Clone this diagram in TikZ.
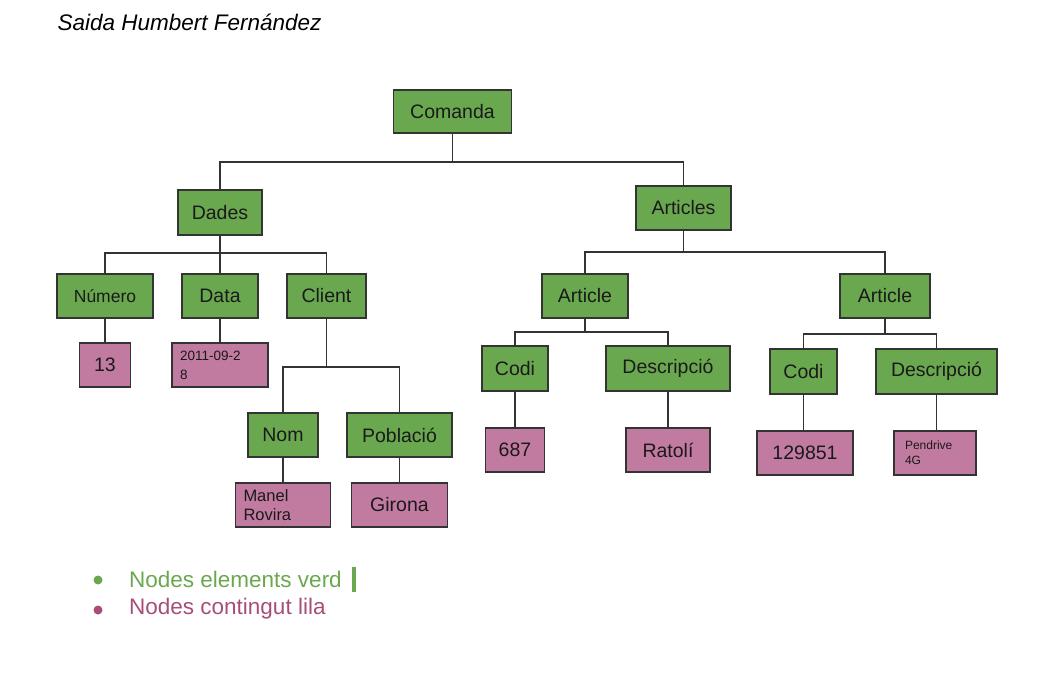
\documentclass[tikz,border=0pt]{standalone}
\usepackage{fontspec}
\setmainfont{Liberation Sans}
\definecolor{gfill}{HTML}{6AA84F}
\definecolor{pfill}{HTML}{C27BA0}
\definecolor{edge}{HTML}{333333}
\definecolor{gtext}{HTML}{6AA84F}
\definecolor{ptext}{HTML}{A64D79}
\definecolor{dtext}{HTML}{1A1A1A}
\begin{document}
\begin{tikzpicture}[x=1pt,y=-1pt,
  gbox/.style={draw=edge,line width=1.3pt,fill=gfill,text=dtext,inner sep=0pt,font=\fontsize{19.5}{22}\selectfont},
  pbox/.style={draw=edge,line width=1.3pt,fill=pfill,text=dtext,inner sep=0pt,font=\fontsize{19.5}{22}\selectfont},
  lbox/.style={pbox,inner xsep=8pt,align=left},
  conn/.style={draw=edge,line width=1.1pt}]
\useasboundingbox (0,0) rectangle (1054,672);

\node[anchor=west,font=\fontsize{22.5}{26}\selectfont\itshape] (title) at (54,22) {Saida Humbert Fernández};

% green element nodes
\node[gbox,minimum width=118pt,minimum height=43pt] (comanda) at (452.5,111.5) {Comanda};
\node[gbox,minimum width=84pt,minimum height=45pt] (dades) at (220,212.5) {Dades};
\node[gbox,minimum width=95pt,minimum height=44pt] (articles) at (683.5,208) {Articles};
\node[gbox,minimum width=96pt,minimum height=44pt,font=\fontsize{17.5}{20}\selectfont] (numero) at (105,296) {Número};
\node[gbox,minimum width=76pt,minimum height=44pt] (data) at (220,296) {Data};
\node[gbox,minimum width=79pt,minimum height=44pt] (client) at (326.5,296) {Client};
\node[gbox,minimum width=70pt,minimum height=44pt] (nom) at (283,435) {Nom};
\node[gbox,minimum width=105pt,minimum height=44pt] (poblacio) at (399.5,435) {Població};
\node[gbox,minimum width=86pt,minimum height=44pt] (article1) at (585,296) {Article};
\node[gbox,minimum width=90pt,minimum height=44pt] (article2) at (885,296) {Article};
\node[gbox,minimum width=66pt,minimum height=45pt] (codi1) at (515,368.5) {Codi};
\node[gbox,minimum width=124pt,minimum height=45pt] (desc1) at (668,368.5) {Descripció};
\node[gbox,minimum width=67pt,minimum height=45pt] (codi2) at (803.5,371.5) {Codi};
\node[gbox,minimum width=121pt,minimum height=45pt] (desc2) at (936.5,371.5) {Descripció};

% purple content nodes
\node[pbox,minimum width=51pt,minimum height=44pt] (v13) at (105,365) {13};
\node[lbox,text width=80pt,minimum height=44pt,font=\fontsize{13.5}{19}\selectfont] (vdata) at (220,365) {2011-09-2\\8};
\node[lbox,text width=79pt,minimum height=44pt,font=\fontsize{16.5}{19.5}\selectfont] (vnom) at (283,505) {Manel\\Rovira};
\node[pbox,minimum width=96pt,minimum height=44pt] (vpob) at (399.5,505) {Girona};
\node[pbox,minimum width=59pt,minimum height=44pt] (v687) at (515,450) {687};
\node[pbox,minimum width=84pt,minimum height=44pt] (vratoli) at (668,450) {Ratolí};
\node[pbox,minimum width=96pt,minimum height=44pt] (v129) at (805,453) {129851};
\node[lbox,inner xsep=11pt,text width=60pt,minimum height=44pt,font=\fontsize{12}{15}\selectfont] (vpen) at (935,453) {Pendrive\\4G};

% bus coordinates
\coordinate (b0) at (452.5,162);
\coordinate (b1) at (220,253);
\coordinate (b2) at (683.5,252);
\coordinate (b3) at (326.5,367);
\coordinate (b4) at (585,332);
\coordinate (b5) at (885,334);

\draw[conn] (comanda.south) -- (b0) -| (dades.north);
\draw[conn] (b0) -| (articles.north);
\draw[conn] (dades.south) -- (b1) -| (numero.north);
\draw[conn] (b1) -- (data.north);
\draw[conn] (b1) -| (client.north);
\draw[conn] (client.south) -- (b3) -| (nom.north);
\draw[conn] (b3) -| (poblacio.north);
\draw[conn] (articles.south) -- (b2) -| (article1.north);
\draw[conn] (b2) -| (article2.north);
\draw[conn] (article1.south) -- (b4) -| (codi1.north);
\draw[conn] (b4) -| (desc1.north);
\draw[conn] (article2.south) -- (b5) -| (codi2.north);
\draw[conn] (b5) -| (desc2.north);
\draw[conn] (numero.south) -- (numero.south |- v13.north);
\draw[conn] (data.south) -- (data.south |- vdata.north);
\draw[conn] (nom.south) -- (nom.south |- vnom.north);
\draw[conn] (poblacio.south) -- (poblacio.south |- vpob.north);
\draw[conn] (codi1.south) -- (codi1.south |- v687.north);
\draw[conn] (desc1.south) -- (desc1.south |- vratoli.north);
\draw[conn] (codi2.south) -- (codi2.south |- v129.north);
\draw[conn] (desc2.south) -- (desc2.south |- vpen.north);

% legend
\node[circle,fill=gtext,minimum size=9pt,inner sep=0pt] (bul1) at (98,580) {};
\node[circle,fill=ptext,minimum size=9pt,inner sep=0pt] (bul2) at (98,610) {};
\node[anchor=west,inner sep=0pt,text=gtext,font=\fontsize{22.5}{26}\selectfont] (leg1) at (129,579) {Nodes elements verd};
\node[anchor=west,inner sep=0pt,text=ptext,font=\fontsize{22.5}{26}\selectfont] (leg2) at (129,609) {Nodes contingut lila};
\fill[gtext] (352,567) rectangle (355.5,592);
\end{tikzpicture}
\end{document}
